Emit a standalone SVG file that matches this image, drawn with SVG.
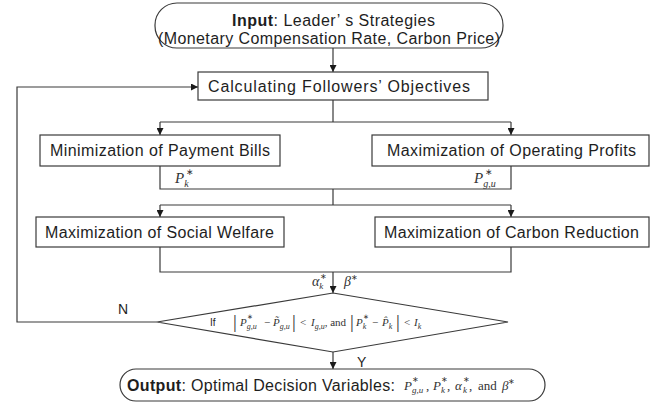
<svg xmlns="http://www.w3.org/2000/svg" width="664" height="410" viewBox="0 0 664 410">
<defs>
<marker id="ah" viewBox="0 0 10 10" refX="10" refY="5" markerWidth="7" markerHeight="7" orient="auto" markerUnits="userSpaceOnUse">
<path d="M0,0 L10,5 L0,10 z" fill="#1a1a1a"/>
</marker>
<style>
.box{fill:#fff;stroke:#3a3a3a;stroke-width:1.2}
.t{font-family:"Liberation Sans",Arial,sans-serif;font-size:16px;fill:#1e1e1e}
.s{font-size:14px}
.xs{font-size:10px}
.b{font-weight:bold}
.m{font-family:"Liberation Serif","Times New Roman",serif;fill:#333}
.i{font-style:italic}
.ln{fill:none;stroke:#3a3a3a;stroke-width:1.2}
.ar{fill:none;stroke:#3a3a3a;stroke-width:1.2;marker-end:url(#ah)}
</style>
</defs>
<rect width="664" height="410" fill="#fff"/>

<g id="connectors">
<path class="ar" d="M333,48 V72"/>
<path class="ln" d="M333,100 V122 M160,122 H511"/>
<path class="ar" d="M160,122 V135"/>
<path class="ar" d="M511,122 V135"/>
<path class="ln" d="M160,166 V189 H511 V166 M333,189 V205 M160,205 H511"/>
<path class="ar" d="M160,205 V217"/>
<path class="ar" d="M511,205 V217"/>
<path class="ln" d="M160,247 V272 H511 V247"/>
<path class="ar" d="M333,272 V293"/>
<path class="ar" d="M333,352 V369"/>
<path class="ar" d="M157,322 H17 V87 H198"/>
<text class="t s" x="118" y="314">N</text>
<text class="t s" x="357" y="367">Y</text>
<text class="m i" x="175" y="183" font-size="15">P<tspan font-size="10" dy="4">k</tspan><tspan font-size="9" font-style="normal" x="186" dy="-12">∗</tspan></text>
<text class="m i" x="474" y="183" font-size="15">P<tspan font-size="10" dy="4">g,u</tspan><tspan font-size="9" font-style="normal" x="485" dy="-12">∗</tspan></text>
<text class="m i" x="312" y="286" font-size="14">α<tspan font-size="9" dy="3">k</tspan><tspan font-size="8" font-style="normal" x="320" dy="-10.5">∗</tspan></text>
<text class="m i" x="344" y="286" font-size="14">β<tspan font-size="8" font-style="normal" dy="-6">∗</tspan></text>
</g>

<g id="input">
<rect class="box" x="155" y="3" width="348" height="45" rx="22" ry="22"/>
<text class="t" x="232" y="26" textLength="203"><tspan class="b">Input</tspan>: Leader’ s Strategies</text>
<text class="t" x="158" y="44" textLength="342">(Monetary Compensation Rate, Carbon Price)</text>
</g>

<g id="calc">
<rect class="box" x="198" y="72" width="290" height="28"/>
<text class="t" x="208" y="92" textLength="262">Calculating Followers’ Objectives</text>
</g>

<g id="min-bills">
<rect class="box" x="40" y="135" width="240" height="31"/>
<text class="t" x="50" y="156" textLength="220">Minimization of Payment Bills</text>
</g>

<g id="max-profits">
<rect class="box" x="372" y="135" width="277" height="31"/>
<text class="t" x="387" y="156" textLength="249">Maximization of Operating Profits</text>
</g>

<g id="max-welfare">
<rect class="box" x="36" y="217" width="248" height="30"/>
<text class="t" x="45" y="238" textLength="229">Maximization of Social Welfare</text>
</g>

<g id="max-carbon">
<rect class="box" x="375" y="217" width="274" height="30"/>
<text class="t" x="384" y="238" textLength="255">Maximization of Carbon Reduction</text>
</g>

<g id="decision">
<polygon class="box" points="333,293 508,322 333,352 157,322"/>
<text class="t xs" x="210" y="326">If</text>
<text class="m" y="326" font-size="11">
<tspan x="233" font-size="19" dy="2">|</tspan><tspan class="i" x="240" dy="-2">P</tspan><tspan class="i" font-size="8" dy="3">g,u</tspan><tspan font-size="7" x="247" dy="-10">∗</tspan><tspan x="264" dy="7">−</tspan><tspan class="i" x="273">P̃</tspan><tspan class="i" font-size="8" dy="3">g,u</tspan><tspan x="292" font-size="19" dy="-1">|</tspan><tspan x="300" dy="-2">&lt;</tspan><tspan class="i" x="311">I</tspan><tspan class="i" font-size="8" dy="3">g,u</tspan><tspan dy="-3">, and</tspan><tspan x="350" font-size="19" dy="2">|</tspan><tspan class="i" x="356" dy="-2">P</tspan><tspan class="i" font-size="8" dy="3">k</tspan><tspan font-size="7" x="363" dy="-10">∗</tspan><tspan x="372" dy="7">−</tspan><tspan class="i" x="382">P̂</tspan><tspan class="i" font-size="8" dy="3">k</tspan><tspan x="396" font-size="19" dy="-1">|</tspan><tspan x="404" dy="-2">&lt;</tspan><tspan class="i" x="414">I</tspan><tspan class="i" font-size="8" dy="3">k</tspan>
</text>
</g>

<g id="output">
<rect class="box" x="120" y="369" width="425" height="32" rx="16" ry="16"/>
<text class="t" x="127" y="391" textLength="268"><tspan class="b">Output</tspan>: Optimal Decision Variables:</text>
<text class="m" y="390" font-size="13"><tspan class="i" x="404">P</tspan><tspan class="i" font-size="9" x="412" dy="3">g,u</tspan><tspan font-size="8" x="412" dy="-11">∗</tspan><tspan x="426" dy="8">,</tspan><tspan class="i" x="433">P</tspan><tspan class="i" font-size="9" x="441" dy="3">k</tspan><tspan font-size="8" x="441" dy="-11">∗</tspan><tspan x="447" dy="8">,</tspan><tspan class="i" x="455">α</tspan><tspan class="i" font-size="9" x="463" dy="3">k</tspan><tspan font-size="8" x="463" dy="-11">∗</tspan><tspan x="469" dy="8">,</tspan><tspan x="478">and</tspan><tspan class="i" x="502">β</tspan><tspan font-size="8" dy="-6">∗</tspan></text>
</g>
</svg>
